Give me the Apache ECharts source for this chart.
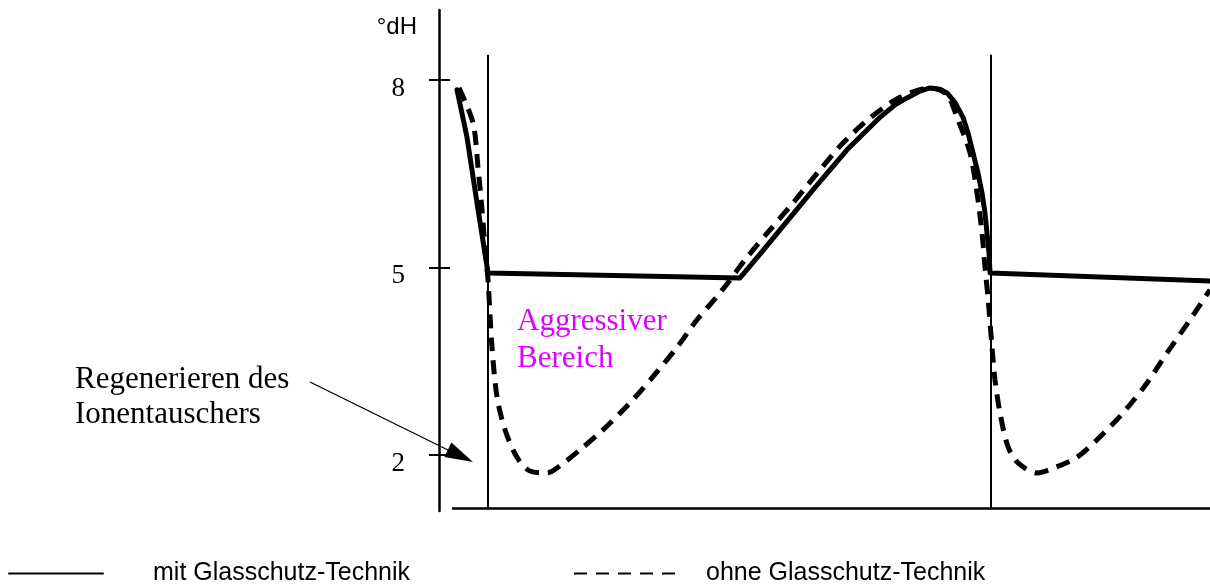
<!DOCTYPE html>
<html>
<head>
<meta charset="utf-8">
<script src="https://cdn.jsdelivr.net/npm/echarts@6/dist/echarts.min.js"></script>
<style>
html, body { margin: 0; padding: 0; background: #fff; }
#chart { width: 1210px; height: 585px; }
</style>
</head>
<body>
<div id="chart"></div>
<script>
// Zeitachse in willkuerlichen Einheiten, Haerte in °dH
var mitX  = [1.8, 2.8, 3.8, 4.9, 30.1, 32.1, 34.1, 37.4, 40.8, 44.1, 45.6, 46.8, 48.1, 49.1, 50.1, 50.8, 51.6, 52.4,
             52.9, 53.4, 53.9, 54.3, 54.6, 54.8, 55.0, 55.1, 77.1];
var mitY  = [7.84, 7.08, 6.03, 4.91, 4.83, 5.21, 5.60, 6.24, 6.88, 7.40, 7.60, 7.71, 7.82, 7.87, 7.85, 7.79, 7.64, 7.40,
             7.15, 6.83, 6.51, 6.19, 5.87, 5.55, 5.23, 4.91, 4.78];

var ohneX = [2.0, 3.4, 3.9, 4.3, 4.7, 4.9, 5.3, 5.8, 6.6, 7.8, 9.1, 10.8, 11.8, 14.1, 16.4, 19.1, 21.4, 23.8, 25.8, 28.1,
             30.8, 33.1, 35.4, 38.1, 40.4, 43.1, 46.1, 49.1, 50.8, 51.8, 53.1, 53.8, 54.3, 54.6, 54.9, 55.3, 55.6, 56.1,
             56.9, 57.9, 59.8, 61.8, 63.8, 65.8, 68.4, 70.8, 72.8, 75.1, 77.1];
var ohneY = [7.87, 7.31, 6.60, 5.92, 5.12, 4.80, 3.72, 2.93, 2.40, 1.96, 1.74, 1.71, 1.79, 2.08, 2.40, 2.83, 3.25, 3.72, 4.16, 4.59,
             5.16, 5.60, 6.03, 6.56, 6.99, 7.39, 7.72, 7.87, 7.76, 7.40, 6.83, 6.19, 5.55, 5.00, 4.52, 3.72, 3.20, 2.67,
             2.13, 1.87, 1.71, 1.81, 1.96, 2.24, 2.67, 3.15, 3.63, 4.16, 4.64];

var yTicks = [2, 5, 8];
var regenTimes = [4.9, 55.2];   // Regeneration (senkrechte Linien)
var regenTop = 8.40;
var baseY = 1.149;              // Grundlinie der Zeitachse
var baseStart = 1.3, baseEnd = 77.1;

var names = ['mit Glasschutz-Technik', 'ohne Glasschutz-Technik'];

function pairs(xs, ys) {
    return xs.map(function (x, i) { return [x, ys[i]]; });
}

var chart = echarts.init(document.getElementById('chart'));

var legendText = { color: '#000', fontFamily: 'Liberation Sans', fontSize: 25 };

var option = {
    backgroundColor: '#fff',
    animation: false,
    grid: { left: 439, right: 0, top: 10, bottom: 74 },
    xAxis: {
        type: 'value', min: 0, max: 77.1,
        show: false
    },
    yAxis: [{
        type: 'value', min: 1.101, max: 9.117,
        splitLine: { show: false },
        axisLine: { show: true, lineStyle: { color: '#000', width: 2.5 } },
        axisTick: { show: true, customValues: yTicks, length: 10, lineStyle: { color: '#000', width: 2 } },
        axisLabel: {
            customValues: yTicks, margin: 34,
            color: '#000', fontFamily: 'Liberation Serif', fontSize: 27,
            verticalAlign: 'top', lineHeight: 18
        }
    }, {
        type: 'value', min: 1.101, max: 9.117, position: 'left',
        splitLine: { show: false },
        axisLine: { show: false },
        axisTick: { show: true, inside: true, customValues: yTicks, length: 11, lineStyle: { color: '#000', width: 2 } },
        axisLabel: { show: false }
    }],
    legend: [{
        data: [names[0]],
        left: 8, top: 561, padding: 0,
        itemWidth: 94, itemHeight: 26,
        lineStyle: { width: 2 },
        itemStyle: { opacity: 0 },
        textStyle: Object.assign({ padding: [0, 0, 0, 45] }, legendText)
    }, {
        data: [names[1]],
        left: 573, top: 561, padding: 0,
        itemWidth: 110, itemHeight: 26,
        lineStyle: { width: 2, type: [13, 9] },
        itemStyle: { opacity: 0 },
        textStyle: Object.assign({ padding: [0, 0, 0, 17] }, legendText)
    }],
    series: [{
        name: names[1],
        type: 'line',
        data: pairs(ohneX, ohneY),
        smooth: 0.3,
        symbol: 'none',
        lineStyle: { color: '#000', width: 5, type: [14, 9] },
        itemStyle: { color: '#000' },
        z: 2
    }, {
        name: names[0],
        type: 'line',
        data: pairs(mitX, mitY),
        smooth: false,
        symbol: 'none',
        lineStyle: { color: '#000', width: 5, join: 'round', cap: 'round' },
        itemStyle: { color: '#000' },
        z: 3,
        markLine: {
            silent: true,
            symbol: ['none', 'none'],
            label: { show: false },
            lineStyle: { color: '#000', width: 2, type: 'solid' },
            data: regenTimes.map(function (t) {
                return [{ coord: [t, baseY] }, { coord: [t, regenTop] }];
            }).concat([[
                { coord: [baseStart, baseY], lineStyle: { width: 2.5 } },
                { coord: [baseEnd, baseY] }
            ]])
        }
    }],
    graphic: [
        { type: 'text', x: 417, y: 27,
          style: { text: '°dH', fill: '#000', font: '24px "Liberation Sans"', align: 'right', verticalAlign: 'middle' } },
        { type: 'text', x: 75, y: 380,
          style: { text: 'Regenerieren des', fill: '#000', font: '31px "Liberation Serif"', verticalAlign: 'middle' } },
        { type: 'text', x: 75, y: 415,
          style: { text: 'Ionentauschers', fill: '#000', font: '31px "Liberation Serif"', verticalAlign: 'middle' } },
        { type: 'text', x: 517, y: 322,
          style: { text: 'Aggressiver', fill: '#e000ff', font: '31px "Liberation Serif"', verticalAlign: 'middle' } },
        { type: 'text', x: 517, y: 359,
          style: { text: 'Bereich', fill: '#e000ff', font: '31px "Liberation Serif"', verticalAlign: 'middle' } },
        { type: 'line', shape: { x1: 310, y1: 382, x2: 450, y2: 451 },
          style: { stroke: '#000', lineWidth: 1.3 } },
        { type: 'polygon', shape: { points: [[473, 462], [444.4, 456.9], [451.4, 442.5]] },
          style: { fill: '#000' } }
    ]
};

chart.setOption(option);
</script>
</body>
</html>
